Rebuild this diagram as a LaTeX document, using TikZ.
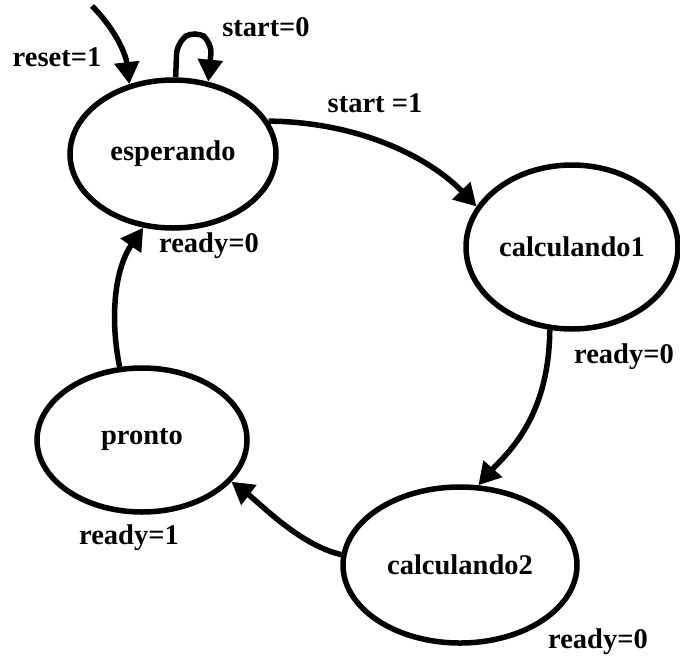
\documentclass[tikz,border=0pt]{standalone}
\usepackage{fontspec}
\setmainfont{Liberation Serif}
\usetikzlibrary{shapes.geometric,arrows.meta}
\tikzset{
  state/.style={ellipse, draw, line width=5.5pt, inner sep=0pt, font=\fontsize{28.5}{33}\selectfont\bfseries},
  lbl/.style={font=\fontsize{28.5}{33}\selectfont\bfseries, inner sep=0pt},
  edge/.style={line width=5.5pt, -{Triangle[length=22pt,width=24pt]}},
}
\begin{document}
\begin{tikzpicture}[x=1pt,y=-1pt]
  \useasboundingbox (0,0) rectangle (680,657);
  % states
  \node[state, minimum width=206pt, minimum height=148pt] (esp) at (173,154) {esperando};
  \node[state, minimum width=212pt, minimum height=164pt] (cal1) at (572,247) {calculando1};
  \node[state, minimum width=210pt, minimum height=144pt] (pro) at (142,440) {pronto};
  \node[state, minimum width=234pt, minimum height=156pt] (cal2) at (460,565) {calculando2};
  % free end of the reset transition
  \coordinate (rst) at (92,6);
  % transitions
  \draw[edge] (rst) .. controls (116,30) and (126,55) .. (esp.122);
  \draw[edge, rounded corners=12pt] (esp.88) -- (177,42) -- (195,30) -- (212,42) -- (esp.64);
  \draw[edge] (esp.19) .. controls (360,122) and (430,158) .. (cal1.157);
  \draw[edge] (cal1.255) .. controls (549,420) and (505,455) .. (cal2.77);
  \draw[edge] (cal2.175) .. controls (300,545) and (262,505) .. (pro.335);
  \draw[edge] (pro.107) .. controls (110,320) and (114,270) .. (esp.248);
  % transition labels
  \node[lbl] (l1) at (57,57) {reset=1};
  \node[lbl] (l2) at (266,27) {start=0};
  \node[lbl] (l3) at (375,103) {start =1};
  \node[lbl] (l4) at (209,246) {ready=0};
  \node[lbl] (l5) at (624,357) {ready=0};
  \node[lbl] (l6) at (129,538) {ready=1};
  \node[lbl] (l7) at (598,642) {ready=0};
\end{tikzpicture}
\end{document}
